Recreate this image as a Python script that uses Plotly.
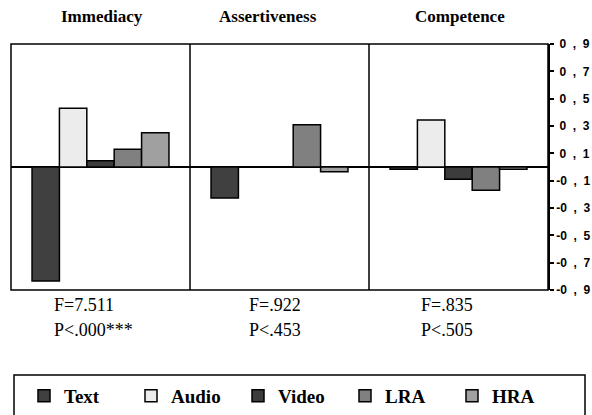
import plotly.graph_objects as go

panels = ["Immediacy", "Assertiveness", "Competence"]
series = ["Text", "Audio", "Video", "LRA", "HRA"]
values = {
    "Text":  [-0.835, -0.227, -0.017],
    "Audio": [0.43, 0.0, 0.344],
    "Video": [0.045, 0.0, -0.09],
    "LRA":   [0.13, 0.31, -0.17],
    "HRA":   [0.25, -0.034, -0.017],
}
colors = {"Text": "#404040", "Audio": "#ececec", "Video": "#3c3c3c",
          "LRA": "#808080", "HRA": "#a0a0a0"}
f_labels = ["F=7.511", "F=.922", "F=.835"]
p_labels = ["P<.000***", "P<.453", "P<.505"]
tick_vals = [0.9, 0.7, 0.5, 0.3, 0.1, -0.1, -0.3, -0.5, -0.7, -0.9]
tick_labels = ["0,9", "0,7", "0,5", "0,3", "0,1", "-0,1", "-0,3", "-0,5", "-0,7", "-0,9"]

def spaced(lbl):
    # wide letter spacing of the original tick labels
    neg = lbl.startswith("-")
    core = lbl.lstrip("-").replace(",", "\u00a0 ,\u00a0 ")
    return ("-" + core) if neg else ("\u00a0" + core)

tick_text = [spaced(t) for t in tick_labels]

W, H = 592, 415
ML, MR, MT, MB = 11, 44, 44, 125
PW = W - ML - MR
PH = H - MT - MB

def px_x(x):
    return (x - ML) / PW

def px_y(y):
    return (H - MB - y) / PH

fig = go.Figure()
xs = list(range(len(panels)))
for s in series:
    fig.add_trace(go.Bar(
        x=xs, y=values[s], name=s,
        marker=dict(color=colors[s], line=dict(color="black", width=1.5)),
    ))

shapes = [
    dict(type="rect", xref="paper", yref="paper", x0=0, x1=1, y0=0, y1=1,
         line=dict(color="black", width=1.5), layer="above"),
    dict(type="line", xref="x", yref="paper", x0=0.5, x1=0.5, y0=0, y1=1,
         line=dict(color="black", width=1.5)),
    dict(type="line", xref="x", yref="paper", x0=1.5, x1=1.5, y0=0, y1=1,
         line=dict(color="black", width=1.5)),
    dict(type="rect", xref="paper", yref="paper",
         x0=px_x(14), x1=px_x(585), y0=px_y(375), y1=px_y(422),
         line=dict(color="black", width=1.5)),
]

title_x = [102, 268, 460]
f_x = [52, 247, 419]
annotations = []
for i, p in enumerate(panels):
    annotations.append(dict(text=p, x=px_x(title_x[i]), y=px_y(17), xref="paper", yref="paper",
                            showarrow=False, xanchor="center", yanchor="middle",
                            font=dict(family="Liberation Serif", size=17, color="black", weight="bold")))
    annotations.append(dict(text=f_labels[i], x=px_x(f_x[i]), y=px_y(305), xref="paper", yref="paper",
                            showarrow=False, xanchor="left", yanchor="middle",
                            font=dict(family="Liberation Serif", size=18, color="black")))
    annotations.append(dict(text=p_labels[i], x=px_x(f_x[i]), y=px_y(330), xref="paper", yref="paper",
                            showarrow=False, xanchor="left", yanchor="middle",
                            font=dict(family="Liberation Serif", size=18, color="black")))

fig.update_layout(
    width=W, height=H,
    margin=dict(l=ML, r=MR, t=MT, b=MB, autoexpand=False),
    paper_bgcolor="white", plot_bgcolor="white",
    barmode="group", bargap=0.235, bargroupgap=0,
    showlegend=True,
    legend=dict(orientation="h", x=px_x(24), y=px_y(396), xanchor="left", yanchor="middle",
                entrywidth=62, entrywidthmode="pixels", traceorder="normal",
                font=dict(family="Liberation Serif", size=19, color="black", weight="bold"),
                bgcolor="rgba(0,0,0,0)", borderwidth=0),
    xaxis=dict(range=[-0.5, 2.5], showticklabels=False, showgrid=False, zeroline=False,
               ticks="", fixedrange=True),
    yaxis=dict(range=[-0.9, 0.9], side="right", tickvals=tick_vals, ticktext=tick_text,
               showgrid=False, zeroline=True, zerolinecolor="black", zerolinewidth=1.5,
               showline=True, linecolor="black", linewidth=1.5, automargin=False,
               ticks="outside", ticklen=4, tickwidth=1.5, tickcolor="black",
               tickfont=dict(family="Liberation Sans", size=12, color="black", weight="bold")),
    shapes=shapes,
    annotations=annotations,
)

fig.write_html("out.html", config={"displayModeBar": False},
               post_script="document.body.style.margin='0';document.body.style.padding='0';")
